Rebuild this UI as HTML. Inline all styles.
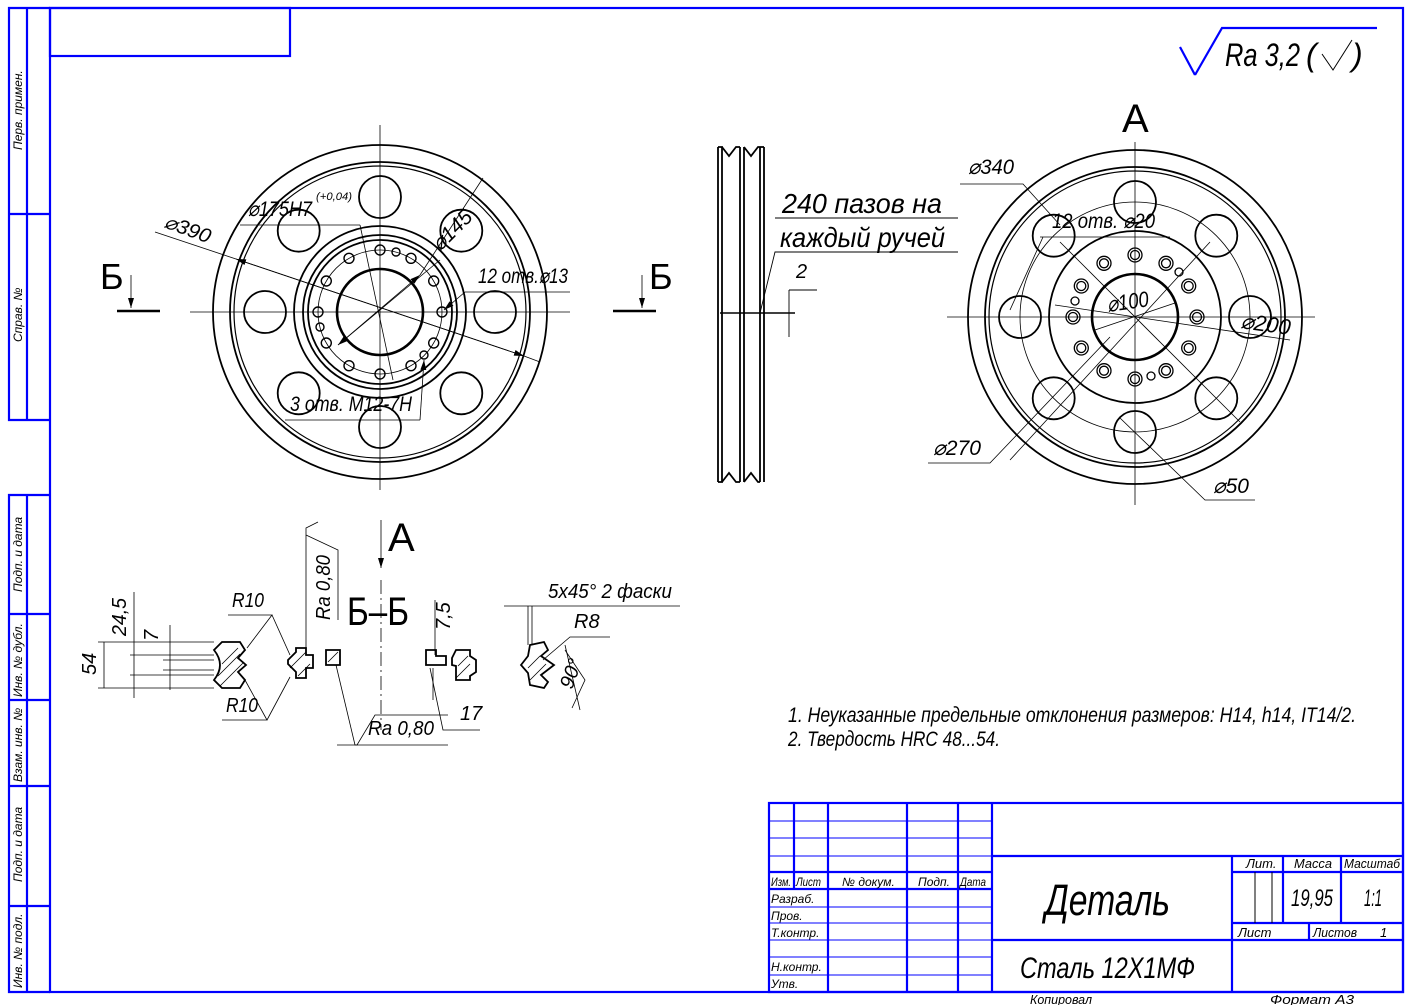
<!DOCTYPE html>
<html><head><meta charset="utf-8"><style>
html,body{margin:0;padding:0;background:#fff;width:1412px;height:1005px;overflow:hidden}
svg text{font-family:"Liberation Sans",sans-serif;font-style:italic;fill:#000}
</style></head><body>
<svg width="1412" height="1005" viewBox="0 0 1412 1005" xmlns="http://www.w3.org/2000/svg">
<defs><marker id="a" viewBox="0 0 10 6" refX="10" refY="3" markerWidth="10" markerHeight="6" markerUnits="userSpaceOnUse" orient="auto"><path d="M0,0 L10,3 L0,6 Z" fill="#000"/></marker></defs>
<!-- frame -->
<g stroke="#0000ff" stroke-width="2.2" fill="none">
<rect x="50" y="8" width="1353" height="984"/>
<rect x="50" y="8" width="240" height="48"/>
<polyline points="50,8 9,8 9,420 50,420"/>
<line x1="27" y1="8" x2="27" y2="420"/>
<line x1="9" y1="214" x2="50" y2="214"/>
<polyline points="50,495 9,495 9,992 50,992"/>
<line x1="27" y1="495" x2="27" y2="992"/>
<line x1="9" y1="614" x2="50" y2="614"/>
<line x1="9" y1="700" x2="50" y2="700"/>
<line x1="9" y1="786" x2="50" y2="786"/>
<line x1="9" y1="906" x2="50" y2="906"/>
<rect x="769" y="803" width="634" height="189"/>
<line x1="794" y1="803" x2="794" y2="889"/>
<line x1="828" y1="803" x2="828" y2="992"/>
<line x1="907" y1="803" x2="907" y2="992"/>
<line x1="958" y1="803" x2="958" y2="992"/>
<line x1="992" y1="803" x2="992" y2="992"/>
<line x1="1232" y1="856" x2="1232" y2="992"/>
<line x1="1283" y1="856" x2="1283" y2="923"/>
<line x1="1341" y1="856" x2="1341" y2="923"/>
<line x1="1309" y1="923" x2="1309" y2="940"/>
<line x1="769" y1="872" x2="992" y2="872"/>
<line x1="769" y1="889" x2="992" y2="889"/>
<line x1="992" y1="856" x2="1403" y2="856"/>
<line x1="1232" y1="872" x2="1403" y2="872"/>
<line x1="1232" y1="923" x2="1403" y2="923"/>
<line x1="992" y1="940" x2="1403" y2="940"/>
<line x1="1180" y1="47" x2="1195" y2="75"/>
<polyline points="1195,75 1222,28 1377,28"/>
</g>
<g stroke="#0000ff" stroke-width="1" fill="none">
<line x1="769" y1="821" x2="992" y2="821"/><line x1="769" y1="838" x2="992" y2="838"/><line x1="769" y1="856" x2="992" y2="856"/>
<line x1="769" y1="907" x2="992" y2="907"/><line x1="769" y1="923" x2="992" y2="923"/><line x1="769" y1="940" x2="992" y2="940"/>
<line x1="769" y1="957" x2="992" y2="957"/><line x1="769" y1="975" x2="992" y2="975"/>
</g>
<g stroke="#000" stroke-width="1" fill="none">
<line x1="1255" y1="872" x2="1255" y2="923"/><line x1="1272" y1="872" x2="1272" y2="923"/>
</g>
<g font-size="12">
<text transform="translate(22,150) rotate(-90)">Перв. примен.</text>
<text transform="translate(22,342) rotate(-90)">Справ. №</text>
<text transform="translate(22,592) rotate(-90)">Подп. и дата</text>
<text transform="translate(22,697) rotate(-90)">Инв. № дубл.</text>
<text transform="translate(22,782) rotate(-90)">Взам. инв. №</text>
<text transform="translate(22,882) rotate(-90)">Подп. и дата</text>
<text transform="translate(22,988) rotate(-90)">Инв. № подл.</text>
</g>
<g font-size="12" lengthAdjust="spacingAndGlyphs">
<text x="771" y="886" textLength="20" lengthAdjust="spacingAndGlyphs">Изм.</text><text x="796" y="886" textLength="25" lengthAdjust="spacingAndGlyphs">Лист</text><text x="842" y="886">№ докум.</text><text x="918" y="886">Подп.</text><text x="960" y="886" textLength="26" lengthAdjust="spacingAndGlyphs">Дата</text>
<text x="771" y="903">Разраб.</text><text x="771" y="920">Пров.</text><text x="771" y="937">Т.контр.</text>
<text x="771" y="971">Н.контр.</text><text x="771" y="988">Утв.</text>
<text x="1246" y="868" font-size="13">Лит.</text><text x="1294" y="868" font-size="13" textLength="38" lengthAdjust="spacingAndGlyphs">Масса</text><text x="1344" y="868" font-size="13" textLength="56" lengthAdjust="spacingAndGlyphs">Масштаб</text>
<text x="1238" y="937" font-size="13">Лист</text><text x="1313" y="937" font-size="13" textLength="44" lengthAdjust="spacingAndGlyphs">Листов</text><text x="1380" y="937" font-size="13">1</text>
</g>
<text x="1291" y="906" font-size="24" textLength="42" lengthAdjust="spacingAndGlyphs">19,95</text>
<text x="1364" y="906" font-size="24" textLength="18" lengthAdjust="spacingAndGlyphs">1:1</text>
<text x="1045" y="915" font-size="44" textLength="125" lengthAdjust="spacingAndGlyphs">Деталь</text>
<text x="1020" y="978" font-size="30" textLength="175" lengthAdjust="spacingAndGlyphs">Сталь  12Х1МФ</text>
<text x="1030" y="1004" font-size="13" textLength="62" lengthAdjust="spacingAndGlyphs">Копировал</text>
<text x="1270" y="1004" font-size="13" textLength="84" lengthAdjust="spacingAndGlyphs">Формат     А3</text>
<text x="1225" y="66" font-size="32" textLength="75" lengthAdjust="spacingAndGlyphs">Ra 3,2</text>
<text x="1306" y="66" font-size="32">(</text><text x="1352" y="66" font-size="32">)</text>
<polyline points="1322,54 1333,70 1352,40" stroke="#000" fill="none" stroke-width="1"/>

<!-- LEFT VIEW -->
<g stroke="#000" fill="none" stroke-width="1.8">
<circle cx="380" cy="312" r="167"/>
<circle cx="380" cy="312" r="150"/>
<circle cx="380" cy="312" r="146" stroke-width="1.2"/>
<circle cx="380" cy="312" r="86"/>
<circle cx="380" cy="312" r="77"/>
<circle cx="380" cy="312" r="72"/>
<circle cx="380" cy="312" r="43" stroke-width="2.6"/>
<circle cx="380" cy="197" r="21"/><circle cx="461.3" cy="230.7" r="21"/><circle cx="495" cy="312" r="21"/><circle cx="461.3" cy="393.3" r="21"/>
<circle cx="380" cy="427" r="21"/><circle cx="298.7" cy="393.3" r="21"/><circle cx="265" cy="312" r="21"/><circle cx="298.7" cy="230.7" r="21"/>
</g>
<g stroke="#000" fill="none" stroke-width="1.4">
<circle cx="380" cy="250" r="5"/><circle cx="411" cy="258.3" r="5"/><circle cx="433.7" cy="281" r="5"/><circle cx="442" cy="312" r="5"/>
<circle cx="433.7" cy="343" r="5"/><circle cx="411" cy="365.7" r="5"/><circle cx="380" cy="374" r="5"/><circle cx="349" cy="365.7" r="5"/>
<circle cx="326.3" cy="343" r="5"/><circle cx="318" cy="312" r="5"/><circle cx="326.3" cy="281" r="5"/><circle cx="349" cy="258.3" r="5"/>
<circle cx="396" cy="252" r="4"/><circle cx="424" cy="355" r="4"/><circle cx="320" cy="327" r="4"/>
</g>
<g stroke="#000" fill="none" stroke-width="0.8">
<line x1="380" y1="125" x2="380" y2="490"/><line x1="190" y1="312" x2="570" y2="312"/>
<circle cx="380" cy="312" r="62"/>
<line x1="155" y1="232" x2="236" y2="259"/><line x1="236" y1="259" x2="524" y2="356" marker-end="url(#a)"/>
<line x1="524" y1="356" x2="236" y2="259" marker-end="url(#a)"/>
<line x1="524" y1="356" x2="540" y2="362"/>
<line x1="440" y1="260" x2="338" y2="345" marker-end="url(#a)"/><line x1="338" y1="345" x2="420" y2="275" marker-end="url(#a)"/>
<line x1="420" y1="275" x2="483" y2="178"/>
<line x1="240" y1="225" x2="360" y2="225"/><line x1="360" y1="225" x2="393" y2="380"/>
<line x1="465" y1="292" x2="570" y2="292"/><line x1="465" y1="292" x2="444" y2="310" marker-end="url(#a)"/>
<line x1="285" y1="420" x2="420" y2="420"/><line x1="420" y1="420" x2="424" y2="360" marker-end="url(#a)"/>
<line x1="117" y1="311" x2="160" y2="311" stroke-width="2.4"/><line x1="613" y1="311" x2="656" y2="311" stroke-width="2.4"/>
<line x1="131" y1="275" x2="131" y2="308" marker-end="url(#a)"/><line x1="642" y1="275" x2="642" y2="308" marker-end="url(#a)"/>
</g>
<text transform="translate(163,227) rotate(20)" font-size="20" textLength="48" lengthAdjust="spacingAndGlyphs">⌀390</text>
<text x="248" y="216" font-size="21" textLength="64" lengthAdjust="spacingAndGlyphs">⌀175H7</text>
<text x="316" y="200" font-size="11" textLength="36" lengthAdjust="spacingAndGlyphs">(+0,04)</text>
<text transform="translate(440,252) rotate(-45)" font-size="21">⌀145</text>
<text x="478" y="283" font-size="21" textLength="90" lengthAdjust="spacingAndGlyphs">12 отв.⌀13</text>
<text x="290" y="411" font-size="21" textLength="122" lengthAdjust="spacingAndGlyphs">3 отв. М12-7Н</text>
<text x="100" y="289" font-size="36" style="font-style:normal">Б</text>
<text x="649" y="289" font-size="36" style="font-style:normal">Б</text>

<!-- SIDE VIEW -->
<g stroke="#000" fill="none" stroke-width="1.8">
<path d="M718,147 L718,482 M764,147 L764,482 M740,147 L740,482 M744,147 L744,482"/>
<path d="M718,147 L722,147 L722,482 L718,482 M760,147 L764,147 M760,147 L760,482"/>
<path d="M722,147 L729,156 L736,147 L740,147 M744,147 L751,156 L758,147 L760,147"/>
<path d="M722,482 L729,473 L736,482 L740,482 M744,482 L751,473 L758,482 L760,482"/>
</g>
<g stroke="#000" fill="none" stroke-width="0.9">
<line x1="720" y1="313" x2="795" y2="313" stroke-width="1.4"/>
<polyline points="958,218 775,218"/><polyline points="958,252 775,252 760,313"/>
<line x1="789" y1="290" x2="789" y2="337"/><line x1="789" y1="290" x2="817" y2="290"/>
</g>
<text x="782" y="213" font-size="28" textLength="160" lengthAdjust="spacingAndGlyphs">240 пазов на</text>
<text x="780" y="247" font-size="28" textLength="165" lengthAdjust="spacingAndGlyphs">каждый ручей</text>
<text x="796" y="278" font-size="20">2</text>

<!-- RIGHT VIEW -->
<g stroke="#000" fill="none" stroke-width="1.8">
<circle cx="1135" cy="317" r="167"/>
<circle cx="1135" cy="317" r="150"/>
<circle cx="1135" cy="317" r="146" stroke-width="1.2"/>
<circle cx="1135" cy="317" r="86"/>
<circle cx="1135" cy="317" r="43" stroke-width="2.6"/>
<circle cx="1135" cy="202" r="21"/><circle cx="1216.3" cy="235.7" r="21"/><circle cx="1250" cy="317" r="21"/><circle cx="1216.3" cy="398.3" r="21"/>
<circle cx="1135" cy="432" r="21"/><circle cx="1053.7" cy="398.3" r="21"/><circle cx="1020" cy="317" r="21"/><circle cx="1053.7" cy="235.7" r="21"/>
</g>
<g stroke="#000" fill="none" stroke-width="1.3">
<circle cx="1135" cy="255" r="7"/><circle cx="1135" cy="255" r="4.5"/>
<circle cx="1166" cy="263.3" r="7"/><circle cx="1166" cy="263.3" r="4.5"/>
<circle cx="1188.7" cy="286" r="7"/><circle cx="1188.7" cy="286" r="4.5"/>
<circle cx="1197" cy="317" r="7"/><circle cx="1197" cy="317" r="4.5"/>
<circle cx="1188.7" cy="348" r="7"/><circle cx="1188.7" cy="348" r="4.5"/>
<circle cx="1166" cy="370.7" r="7"/><circle cx="1166" cy="370.7" r="4.5"/>
<circle cx="1135" cy="379" r="7"/><circle cx="1135" cy="379" r="4.5"/>
<circle cx="1104" cy="370.7" r="7"/><circle cx="1104" cy="370.7" r="4.5"/>
<circle cx="1081.3" cy="348" r="7"/><circle cx="1081.3" cy="348" r="4.5"/>
<circle cx="1073" cy="317" r="7"/><circle cx="1073" cy="317" r="4.5"/>
<circle cx="1081.3" cy="286" r="7"/><circle cx="1081.3" cy="286" r="4.5"/>
<circle cx="1104" cy="263.3" r="7"/><circle cx="1104" cy="263.3" r="4.5"/>
<circle cx="1179" cy="272" r="4"/><circle cx="1075" cy="301" r="4"/><circle cx="1151" cy="376" r="4"/>
</g>
<g stroke="#000" fill="none" stroke-width="0.8">
<line x1="1135" y1="142" x2="1135" y2="505"/><line x1="947" y1="317" x2="1315" y2="317"/>
<circle cx="1135" cy="317" r="115"/>
<line x1="1060" y1="242" x2="1240" y2="422"/><line x1="1210" y1="242" x2="1010" y2="460"/>
<line x1="1095" y1="330" x2="1175" y2="303"/>
<line x1="1055" y1="305" x2="1290" y2="340"/>
<polyline points="960,184 1023,184 1060,225"/>
<polyline points="1040,237 1170,237"/>
<polyline points="1043,237 1010,310"/>
<polyline points="928,463 990,463 1110,337"/>
<polyline points="1255,500 1205,500 1120,418"/>
</g>
<text x="1122" y="132" font-size="40" style="font-style:normal">А</text>
<text x="968" y="174" font-size="21" textLength="46" lengthAdjust="spacingAndGlyphs">⌀340</text>
<text x="1052" y="228" font-size="21" textLength="103" lengthAdjust="spacingAndGlyphs">12 отв. ⌀20</text>
<text transform="translate(1108,312) rotate(-8)" font-size="22" textLength="42" lengthAdjust="spacingAndGlyphs">⌀100</text>
<text transform="translate(1240,328) rotate(8)" font-size="22" textLength="50" lengthAdjust="spacingAndGlyphs">⌀200</text>
<text x="933" y="455" font-size="21" textLength="48" lengthAdjust="spacingAndGlyphs">⌀270</text>
<text x="1213" y="493" font-size="21" textLength="36" lengthAdjust="spacingAndGlyphs">⌀50</text>

<!-- SECTIONS -->
<g stroke="#000" fill="none" stroke-width="1.8">
<path d="M214,650 L222,642 L240,642 L245,650 L238,658 L246,665 L238,672 L245,680 L240,688 L222,688 L214,680 Q226,665 214,650 Z"/>
<path d="M288,660 L296,652 L296,648 L306,648 L306,655 L313,655 L313,668 L306,668 L306,678 L296,678 L296,672 L288,664 Z"/>
<path d="M326,650 L340,650 L340,665 L326,665 Z"/>
<path d="M426,650 L436,650 L436,656 L446,656 L446,665 L426,665 Z"/>
<path d="M452,658 L456,650 L470,650 L470,656 L476,660 L476,672 L470,676 L470,680 L456,680 L456,666 L452,665 Z"/>
<path d="M521,665 L528,656 L530,645 L544,642 L548,650 L541,656 L554,665 L541,675 L548,682 L544,688 L530,685 L528,673 Z"/>
</g>
<g stroke="#000" fill="none" stroke-width="0.8">
<path d="M220,686 L244,662 M218,676 L240,654 M222,664 L238,648 M290,668 L306,652 M298,676 L310,664 M328,662 L338,652 M456,678 L470,664 M458,666 L468,656 M530,680 L546,664 M528,668 L540,656"/>
<line x1="381" y1="580" x2="381" y2="730" stroke-dasharray="14,4,2,4"/>
<line x1="381" y1="520" x2="381" y2="568" marker-end="url(#a)"/>
<line x1="98" y1="642" x2="214" y2="642"/><line x1="98" y1="688" x2="214" y2="688"/>
<line x1="130" y1="655" x2="214" y2="655"/><line x1="130" y1="675" x2="214" y2="675"/>
<line x1="163" y1="660" x2="214" y2="660"/><line x1="163" y1="670" x2="214" y2="670"/>
<line x1="104" y1="642" x2="104" y2="688"/><line x1="134" y1="592" x2="134" y2="698"/><line x1="170" y1="625" x2="170" y2="690"/>
<polyline points="228,615 272,615 247,648"/><polyline points="272,615 290,655"/>
<polyline points="222,720 267,720 245,680"/><polyline points="267,720 290,677"/>
<polyline points="306,650 306,528 318,522"/><polyline points="306,535 338,550 338,620"/>
<polyline points="480,730 443,730 430,668"/><line x1="435" y1="600" x2="435" y2="655"/><line x1="433" y1="668" x2="433" y2="700"/>
<polyline points="336,665 355,745 357,745 375,715 448,715"/><line x1="337" y1="745" x2="448" y2="745"/>
<line x1="504" y1="606" x2="680" y2="606"/><line x1="532" y1="606" x2="532" y2="645"/><line x1="528" y1="606" x2="528" y2="645"/>
<polyline points="610,637 570,637 543,660"/><polyline points="565,650 585,680 572,708"/>
<line x1="565" y1="645" x2="580" y2="710"/>
</g>
<text x="388" y="551" font-size="40" style="font-style:normal">А</text>
<text x="347" y="625" font-size="40" style="font-style:normal" textLength="62" lengthAdjust="spacingAndGlyphs">Б–Б</text>
<text transform="translate(126,636) rotate(-90)" font-size="20" textLength="38" lengthAdjust="spacingAndGlyphs">24,5</text>
<text transform="translate(96,675) rotate(-90)" font-size="20">54</text>
<text transform="translate(158,641) rotate(-90)" font-size="20">7</text>
<text x="232" y="607" font-size="20" textLength="32" lengthAdjust="spacingAndGlyphs">R10</text>
<text x="226" y="712" font-size="20" textLength="32" lengthAdjust="spacingAndGlyphs">R10</text>
<text transform="translate(330,620) rotate(-90)" font-size="20" textLength="65" lengthAdjust="spacingAndGlyphs">Ra 0,80</text>
<text transform="translate(450,630) rotate(-90)" font-size="20">7,5</text>
<text x="460" y="720" font-size="20">17</text>
<text x="368" y="735" font-size="20" textLength="66" lengthAdjust="spacingAndGlyphs">Ra 0,80</text>
<text x="548" y="598" font-size="20" textLength="124" lengthAdjust="spacingAndGlyphs">5x45° 2 фаски</text>
<text x="574" y="628" font-size="20">R8</text>
<text transform="translate(572,690) rotate(-70)" font-size="20">90°</text>

<text x="788" y="722" font-size="21" textLength="568" lengthAdjust="spacingAndGlyphs">1. Неуказанные предельные отклонения размеров: H14, h14, IT14/2.</text>
<text x="788" y="746" font-size="21" textLength="212" lengthAdjust="spacingAndGlyphs">2. Твердость HRC 48...54.</text>
</svg>
</body></html>
